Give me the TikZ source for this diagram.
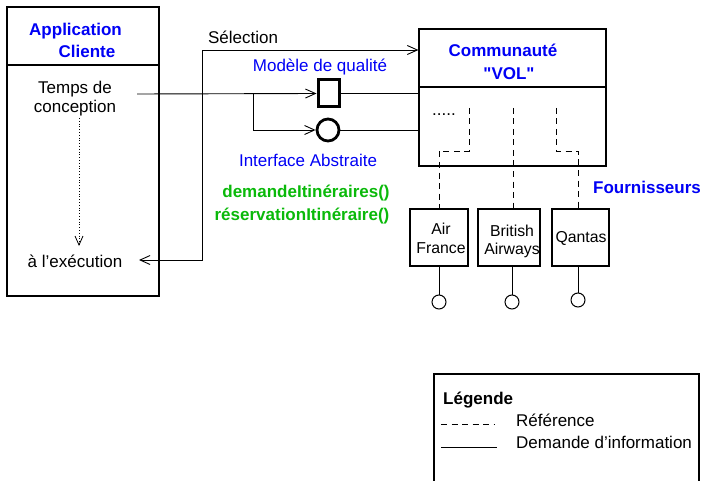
\documentclass[tikz,border=0pt]{standalone}
\usepackage{fontspec}
\setmainfont{Liberation Sans}[Ligatures=TeXOff]
\usetikzlibrary{arrows.meta}
\definecolor{tblue}{RGB}{0,0,245}
\definecolor{tgreen}{RGB}{10,185,10}
\tikzset{
  txt/.style={font=\fontsize{17}{19}\selectfont, inner sep=0pt, anchor=base},
  stxt/.style={font=\fontsize{15.8}{18}\selectfont, inner sep=0pt, anchor=base},
  ttl/.style={txt, font=\fontsize{17}{19}\selectfont\bfseries, text=tblue},
  meth/.style={txt, font=\fontsize{17}{19}\selectfont\bfseries, text=tgreen},
  lbl/.style={txt, text=tblue},
  bigbox/.style={draw, line width=1.2pt, rectangle, inner sep=0pt},
  supbox/.style={draw, line width=1.2pt, rectangle, inner sep=0pt, minimum height=57pt},
  conn/.style={line width=0.9pt},
  arr/.style={conn, -{Straight Barb[length=10pt,width=9pt]}},
  ref/.style={line width=0.9pt, dash pattern=on 6pt off 4.5pt},
  port/.style={draw, circle, line width=1pt, minimum size=14pt, inner sep=0pt},
}
\begin{document}
\begin{tikzpicture}[x=1pt,y=-1pt]
\useasboundingbox (0,0) rectangle (703,481);

% Application Cliente
\node[bigbox, minimum width=152pt, minimum height=289pt] (app) at (83,151.5) {};
\draw[line width=1.2pt] (app.west |- 0,65) -- (app.east |- 0,65);
\node[ttl] (appt1) at (75.5,36) {Application};
\node[ttl] (appt2) at (87,58) {Cliente};
\node[txt] (tc1) at (75,94) {Temps de};
\node[txt] (tc2) at (75,113) {conception};
\node[txt] (exec) at (75,267) {à l’exécution};
\coordinate (dotstart) at (79,118);
\coordinate (dotend) at (79,246);
\draw[line width=0.8pt, dotted, -{Straight Barb[length=9pt,width=8pt]}] (dotstart) -- (dotend);

% Communauté VOL
\node[bigbox, minimum width=187pt, minimum height=137pt] (comm) at (512.5,97.5) {};
\draw[line width=1.2pt] (comm.west |- 0,87) -- (comm.east |- 0,87);
\node[ttl] (comt1) at (503,57) {Communauté};
\node[ttl] (comt2) at (509,80) {"VOL"};
\node[txt] (dots) at (444,116) {.....};

% Quality model square and abstract interface circle
\node[draw, rectangle, line width=3pt, minimum width=21pt, minimum height=27pt, inner sep=0pt] (sq) at (328.5,93.5) {};
\node[draw, circle, line width=2.8pt, minimum size=22pt, inner sep=0pt] (circ) at (328,130) {};
\node[lbl] (modq) at (320,72) {Modèle de qualité};
\node[lbl] (intab) at (308,166) {Interface Abstraite};
\node[meth] (m1) at (306,197) {demandeItinéraires()};
\node[meth] (m2) at (302,220) {réservationItinéraire()};
\node[txt] (sel) at (243,44) {Sélection};

\coordinate (tcout) at (137,94);
\coordinate (br) at (253,94);
\coordinate (execin) at (139,260);
\coordinate (selcorner) at (202,50);
\draw[arr] (tcout) -- (sq.west);
\draw[conn] (sq.east) -- (comm.west |- sq.east);
\draw[arr] (br) |- (circ.west);
\draw[conn] (circ.east) -- (comm.west |- circ.east);
\draw[conn, {Straight Barb[length=10pt,width=9pt]}-{Straight Barb[length=10pt,width=9pt]}] (execin) -| (selcorner) -- (comm.west |- selcorner);

% Suppliers
\node[supbox, minimum width=58pt] (af) at (439,237.5) {};
\node[supbox, minimum width=62pt] (ba) at (509,237.5) {};
\node[supbox, minimum width=57pt] (qa) at (580.5,237.5) {};
\node[stxt] (af1) at (441,234) {Air};
\node[stxt] (af2) at (441,253) {France};
\node[stxt] (ba1) at (512,236) {British};
\node[stxt] (ba2) at (512,254) {Airways};
\node[stxt] (qa1) at (581,242) {Qantas};
\node[ttl] (four) at (647,193) {Fournisseurs};

\coordinate (r1) at (469,108);
\coordinate (r2) at (513,108);
\coordinate (r3) at (556,108);
\draw[ref] (r1) -- (469,151) -| (af.north);
\draw[ref] (r2) -- (r2 |- ba.north);
\draw[ref] (r3) -- (556,151) -| (578,209);

\node[port] (p1) at (439,302) {};
\node[port] (p2) at (512,302) {};
\node[port] (p3) at (578,300) {};
\draw[conn] (af.south) -- (p1);
\draw[conn] (512,266) -- (p2);
\draw[conn] (578,266) -- (p3);

% Legend
\draw[line width=1.2pt] (434,481) -- (434,374) -- (699,374) -- (699,481);
\node[txt, font=\fontsize{17}{19}\selectfont\bfseries, anchor=base west] (leg) at (443,404) {Légende};
\node[txt, anchor=base west] (lref) at (516,426) {Référence};
\node[txt, anchor=base west] (ldem) at (516,448) {Demande d’information};
\coordinate (lr1) at (441,424);
\coordinate (lr2) at (494,424);
\coordinate (ld1) at (441,447);
\coordinate (ld2) at (497,447);
\draw[ref] (lr1) -- (lr2);
\draw[conn] (ld1) -- (ld2);
\end{tikzpicture}
\end{document}
